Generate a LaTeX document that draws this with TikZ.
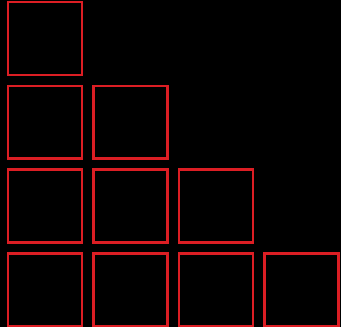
\documentclass[tikz,border=0pt]{standalone}
\definecolor{boxred}{RGB}{220,30,36}
\begin{document}
\begin{tikzpicture}[x=0.75pt,y=-0.75pt,
  sq/.style={draw=boxred,line width=1.9pt}]
\fill[black] (0,0) rectangle (341,327);
\useasboundingbox (0,0) rectangle (341,327);
\foreach \r in {0,1,2,3}{
  \foreach \c in {0,...,\r}{
    \draw[sq] ({8+85.5*\c},{2.2+83.7*\r}) rectangle ++(74,72.8);
  }
}
\end{tikzpicture}
\end{document}
